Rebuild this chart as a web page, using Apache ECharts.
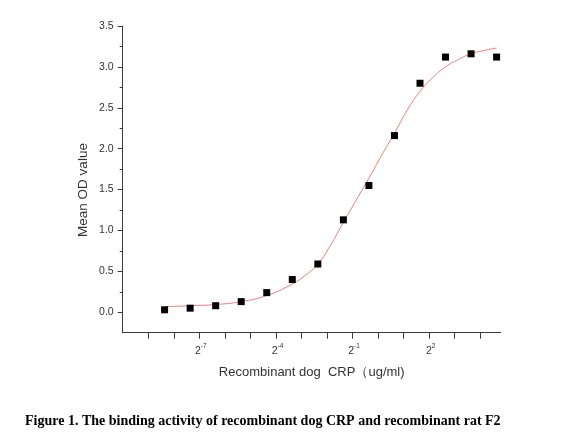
<!DOCTYPE html>
<html><head><meta charset="utf-8">
<script src="https://cdn.jsdelivr.net/npm/echarts@6/dist/echarts.min.js"></script>
<style>html,body{margin:0;padding:0;background:#fff}#c{width:586px;height:439px}</style>
</head><body><div id="c"></div>
<script>
// x positions are log2 of concentration (ug/ml)
const pointLog2 = [-8.36,-7.36,-6.36,-5.36,-4.36,-3.36,-2.36,-1.36,-0.36,0.64,1.64,2.64,3.64,4.64];
const pointOD   = [0.03,0.05,0.08,0.13,0.24,0.40,0.59,1.13,1.55,2.16,2.80,3.12,3.16,3.12];
const curveLog2 = [-8.36,-7.36,-6.36,-5.36,-4.36,-3.36,-2.86,-2.36,-1.86,-1.36,-0.86,-0.36,0.14,0.64,1.14,1.64,2.14,2.64,3.14,3.64,4.14,4.64];
const curveOD   = [0.068,0.08,0.095,0.13,0.205,0.345,0.45,0.59,0.82,1.10,1.37,1.64,1.92,2.19,2.47,2.70,2.87,3.00,3.09,3.16,3.20,3.23];
const xTickValues = [-9,-8,-7,-6,-5,-4,-3,-2,-1,0,1,2,3,4];
const xLabelValues = [-7,-4,-1,2];
const yMajorValues = [0,0.5,1,1.5,2,2.5,3,3.5];
const yMinorValues = [0.25,0.75,1.25,1.75,2.25,2.75,3.25];

const axisColor = '#3a3a3a';
const chart = echarts.init(document.getElementById('c'), null, {renderer:'canvas'});
chart.setOption({
  animation:false,
  backgroundColor:'#fff',
  title:{
    text:'Figure 1. The binding activity of recombinant dog CRP and recombinant rat F2',
    left:20, top:409,
    textStyle:{fontFamily:'Liberation Serif', fontWeight:'bold', fontSize:14, color:'#000'}
  },
  graphic:[{
    type:'text', x:83, y:190, rotation:Math.PI/2,
    style:{text:'Mean OD value', fontFamily:'Liberation Sans', fontSize:13.5, fill:'#333', align:'center', verticalAlign:'middle'}
  }],
  grid:{left:122.7, right:85.3, top:26, bottom:106.3},
  xAxis:{
    type:'value', min:-10, max:4.8,
    name:'Recombinant dog  CRP（ug/ml)', nameLocation:'middle', nameGap:33,
    nameTextStyle:{fontFamily:'Liberation Sans', fontSize:13, color:'#333'},
    axisLine:{show:true, onZero:false, lineStyle:{color:axisColor, width:1}},
    axisTick:{show:true, length:6, customValues:xTickValues, lineStyle:{color:axisColor, width:1}},
    splitLine:{show:false},
    axisLabel:{
      customValues:xLabelValues, margin:10,
      formatter:function(v){ return '{b|2}{s|' + v + '}'; },
      rich:{
        b:{fontFamily:'Liberation Sans', fontSize:10.5, color:'#333', lineHeight:14, verticalAlign:'bottom', padding:[0,0,0,3]},
        s:{fontFamily:'Liberation Sans', fontSize:6.5, color:'#333', lineHeight:8, verticalAlign:'top'}
      }
    }
  },
  yAxis:[{
    type:'value', min:-0.25, max:3.5, position:'left',
    axisLine:{show:true, onZero:false, lineStyle:{color:axisColor, width:1}},
    axisTick:{show:true, length:5, customValues:yMajorValues, lineStyle:{color:axisColor, width:1}},
    axisLabel:{customValues:yMajorValues, margin:9, fontFamily:'Liberation Sans', fontSize:10.5, color:'#333',
      formatter:function(v){ return v.toFixed(1); }},
    splitLine:{show:false}
  },{
    type:'value', min:-0.25, max:3.5, position:'left', offset:0,
    axisLine:{show:false, onZero:false},
    axisTick:{show:true, length:3, customValues:yMinorValues, lineStyle:{color:axisColor, width:1}},
    axisLabel:{show:false},
    splitLine:{show:false}
  }],
  series:[{
    type:'line', yAxisIndex:0, smooth:true, showSymbol:false, silent:true,
    lineStyle:{color:'#f07a7a', width:1},
    data: curveLog2.map((x,i)=>[x, curveOD[i]]),
    z:2
  },{
    type:'scatter', yAxisIndex:0, symbol:'rect', symbolSize:7,
    itemStyle:{color:'#000', opacity:1},
    data: pointLog2.map((x,i)=>[x, pointOD[i]]),
    z:3
  }]
});
</script></body></html>
